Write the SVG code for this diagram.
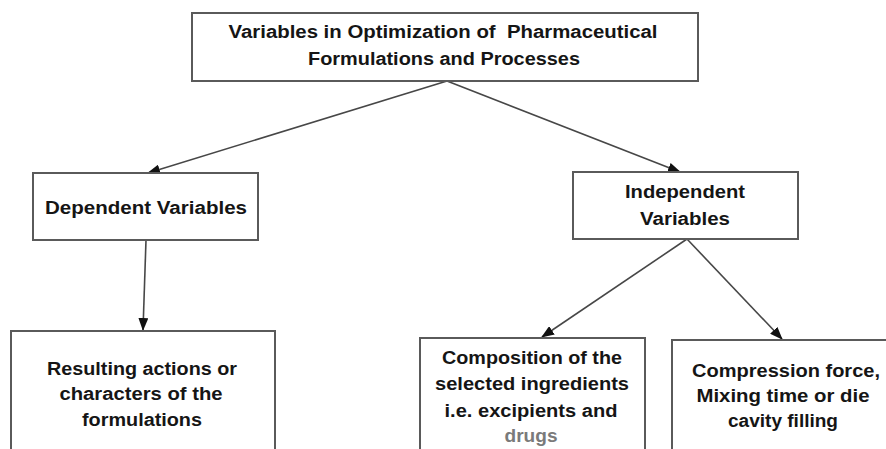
<svg xmlns="http://www.w3.org/2000/svg" width="886" height="449" viewBox="0 0 886 449">
  <style>
    .box { fill: #ffffff; stroke: #5a5a5a; stroke-width: 2; }
    .lbl { font-family: "Liberation Sans", Arial, sans-serif; font-weight: bold; font-size: 18px; fill: #151515; text-anchor: middle; white-space: pre; }
    .faint { fill: #7a7a7a; }
    .edge { stroke: #474747; stroke-width: 1.6; fill: none; marker-end: url(#arrow); }
  </style>
  <defs>
    <marker id="arrow" markerUnits="userSpaceOnUse" markerWidth="13" markerHeight="10" refX="12" refY="5" orient="auto">
      <path d="M0,0 L13,5 L0,10 z" fill="#111"/>
    </marker>
  </defs>
  <rect width="886" height="449" fill="#ffffff"/>

  <g id="connectors">
    <line class="edge" x1="447" y1="81" x2="148" y2="173"/>
    <line class="edge" x1="447" y1="81" x2="680" y2="172"/>
    <line class="edge" x1="146" y1="240" x2="143" y2="330"/>
    <line class="edge" x1="687" y1="239" x2="542" y2="337"/>
    <line class="edge" x1="687" y1="239" x2="782" y2="339"/>
  </g>

  <g id="root">
    <rect class="box" x="192" y="13" width="506" height="68"/>
    <text class="lbl" x="443" y="38" textLength="429" lengthAdjust="spacingAndGlyphs" xml:space="preserve">Variables in Optimization of  Pharmaceutical</text>
    <text class="lbl" x="444" y="65" textLength="272" lengthAdjust="spacingAndGlyphs">Formulations and Processes</text>
  </g>

  <g id="dependent">
    <rect class="box" x="33" y="173" width="225" height="67"/>
    <text class="lbl" x="146" y="214" textLength="202" lengthAdjust="spacingAndGlyphs">Dependent Variables</text>
  </g>

  <g id="independent">
    <rect class="box" x="573" y="172" width="225" height="67"/>
    <text class="lbl" x="685" y="198" textLength="120" lengthAdjust="spacingAndGlyphs">Independent</text>
    <text class="lbl" x="685" y="225" textLength="90" lengthAdjust="spacingAndGlyphs">Variables</text>
  </g>

  <g id="resulting">
    <rect class="box" x="11" y="331" width="264" height="140"/>
    <text class="lbl" x="142" y="375" textLength="190" lengthAdjust="spacingAndGlyphs">Resulting actions or</text>
    <text class="lbl" x="141" y="400" textLength="163" lengthAdjust="spacingAndGlyphs">characters of the</text>
    <text class="lbl" x="142" y="426" textLength="120" lengthAdjust="spacingAndGlyphs">formulations</text>
  </g>

  <g id="composition">
    <rect class="box" x="420" y="338" width="225" height="140"/>
    <text class="lbl" x="532" y="364" textLength="180" lengthAdjust="spacingAndGlyphs">Composition of the</text>
    <text class="lbl" x="532" y="390" textLength="194" lengthAdjust="spacingAndGlyphs">selected ingredients</text>
    <text class="lbl" x="531" y="417" textLength="173" lengthAdjust="spacingAndGlyphs">i.e. excipients and</text>
    <text class="lbl faint" x="531" y="442" textLength="53" lengthAdjust="spacingAndGlyphs">drugs</text>
  </g>

  <g id="compression">
    <rect class="box" x="672" y="340" width="240" height="140"/>
    <text class="lbl" x="786" y="377" textLength="188" lengthAdjust="spacingAndGlyphs">Compression force,</text>
    <text class="lbl" x="783" y="402" textLength="173" lengthAdjust="spacingAndGlyphs">Mixing time or die</text>
    <text class="lbl" x="783" y="427" textLength="110" lengthAdjust="spacingAndGlyphs">cavity filling</text>
  </g>
</svg>
